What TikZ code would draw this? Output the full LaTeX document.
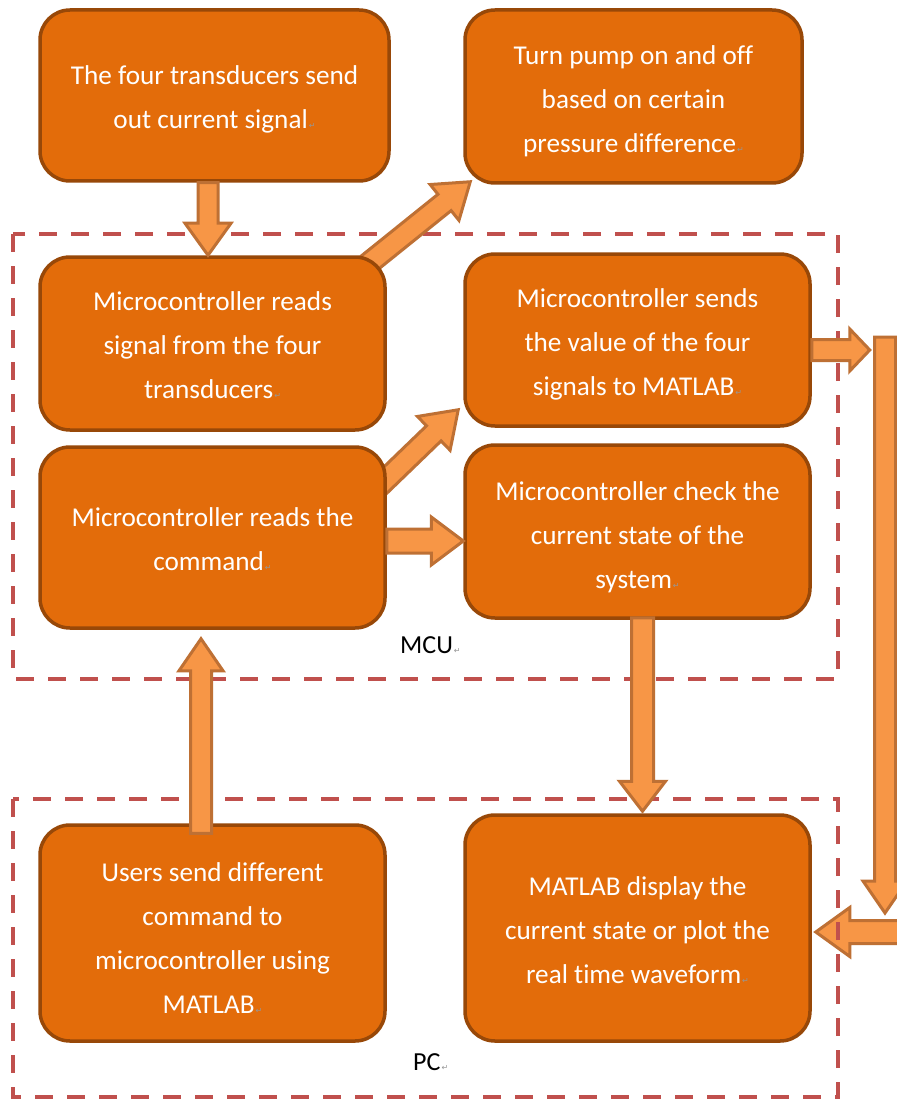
\documentclass[tikz,border=0pt]{standalone}
\usepackage{fontspec}
\setmainfont{Carlito}[Ligatures={NoCommon}]
\newfontfamily\dejavu{DejaVu Sans}
\usetikzlibrary{calc}
\definecolor{boxfill}{RGB}{227,108,10}
\definecolor{boxline}{RGB}{152,72,8}
\definecolor{arrfill}{RGB}{247,150,70}
\definecolor{arrline}{RGB}{190,112,52}
\definecolor{dashred}{RGB}{192,80,77}
\definecolor{retgray}{RGB}{150,150,150}
\newcommand\ret{{\kern1pt\fontsize{8}{8}\dejavu\color{retgray}↵}}
\pgfdeclarelayer{lzero}
\pgfdeclarelayer{lone}
\pgfdeclarelayer{ltwo}
\pgfdeclarelayer{lthree}
\pgfdeclarelayer{ltop}
\pgfsetlayers{lzero,lone,ltwo,lthree,main,ltop}
% start, tip, half shaft, half head, head length
\newcommand\barrow[5]{%
  \coordinate (bH) at ($(#2)!#5!(#1)$);
  \draw[blockarrow] ($(#1)!#3!90:(#2)$) -- ($(bH)!#3!90:(#2)$) -- ($(bH)!#4!90:(#2)$) -- (#2)
     -- ($(bH)!#4!-90:(#2)$) -- ($(bH)!#3!-90:(#2)$) -- ($(#1)!#3!-90:(#2)$) -- cycle;}
\tikzset{
  procbox/.style={draw=boxline, line width=3.5pt, fill=boxfill, rounded corners=30pt, inner sep=0pt},
  boxtext/.style={text=white, align=center, inner sep=0pt, font=\fontsize{27.2}{44}\selectfont},
  dashbox/.style={draw=dashred, line width=4pt, dash pattern=on 18pt off 14pt},
  blockarrow/.style={draw=arrline, fill=arrfill, line width=3pt, line join=miter},
  lbl/.style={text=black, inner sep=0pt, font=\fontsize{26}{30}\selectfont}
}
\begin{document}
\begin{tikzpicture}[x=1pt,y=-1pt]
\useasboundingbox (0,0) rectangle (896,1099);
\begin{pgfonlayer}{lzero}
  \fill[white] (0,0) rectangle (896,1099);
\end{pgfonlayer}

% boxes
\node[procbox, minimum width=349pt, minimum height=171pt] (b1) at (214.5,95.5) {};
\node[procbox, minimum width=337pt, minimum height=173pt] (b2) at (633.5,96.5) {};
\node[procbox, minimum width=345pt, minimum height=173pt] (b3) at (212.5,343.5) {};
\node[procbox, minimum width=345pt, minimum height=172pt] (b4) at (637.5,340) {};
\node[procbox, minimum width=345pt, minimum height=181pt] (b5) at (212.5,537.5) {};
\node[procbox, minimum width=345pt, minimum height=173pt] (b6) at (637.5,531.5) {};
\node[procbox, minimum width=345pt, minimum height=216pt] (b7) at (212.5,933) {};
\node[procbox, minimum width=345pt, minimum height=226pt] (b8) at (637.5,928) {};

% box texts
\node[boxtext] (t1) at ($(b1.center)+(0,4)$) {The four transducers send\\out current signal\ret};
\node[boxtext] (t2) at ($(b2.center)+(0,5)$) {Turn pump on and off\\based on certain\\pressure difference\ret};
\node[boxtext] (t3) at ($(b3.center)+(0,2)$) {Microcontroller reads\\signal from the four\\transducers\ret};
\node[boxtext] (t4) at ($(b4.center)+(0,4)$) {Microcontroller sends\\the value of the four\\signals to MATLAB\ret};
\node[boxtext] (t5) at ($(b5.center)+(0,2)$) {Microcontroller reads the\\command\ret};
\node[boxtext] (t6) at ($(b6.center)+(0,6)$) {Microcontroller check the\\current state of the\\system\ret};
\node[boxtext] (t7) at ($(b7.center)+(0,5)$) {Users send different\\command to\\microcontroller using\\MATLAB\ret};
\node[boxtext] (t8) at ($(b8.center)+(0,2)$) {MATLAB display the\\current state or plot the\\real time waveform\ret};

% labels
\node[lbl, anchor=base west] (mcu) at (400,653) {MCU\ret};
\node[lbl, anchor=base west] (pc) at (413,1070) {PC\ret};

% arrow end points
\coordinate (a1s) at ($(b1.south)+(-6.5,0)$);
\coordinate (a1t) at ($(b3.north)+(-4.5,0)$);
\coordinate (a2s) at ($(b3.north east)+(-24,13)$);
\coordinate (a2t) at ($(b2.south west)+(7,-3)$);
\coordinate (a3s) at ($(b5.north east)+(-14,47)$);
\coordinate (a3t) at ($(b4.south west)+(-5,-18)$);
\coordinate (a4s) at ($(b5.east)+(0,3.5)$);
\coordinate (a4t) at (b6.west |- a4s);
\coordinate (a5s) at ($(b7.north)+(-11.5,10)$);
\coordinate (a5t) at ($(b5.south)+(-11.5,9)$);
\coordinate (a6s) at ($(b6.south)+(5,-2)$);
\coordinate (a6t) at ($(b8.north)+(5,-2)$);
\coordinate (a7s) at ($(b4.east)+(0,10)$);
\coordinate (a7t) at ($(b4.east)+(58,10)$);
\coordinate (a8s) at (885,337);
\coordinate (a8t) at (885,913);
\coordinate (a9s) at (910,932);
\coordinate (a9t) at ($(b8.east)+(4,4)$);

\begin{pgfonlayer}{lone}
  \draw[dashbox] (13,234) rectangle (838,679);
  \barrow{a9s}{a9t}{11.5pt}{24.5pt}{34pt}
\end{pgfonlayer}
\begin{pgfonlayer}{ltwo}
  \draw[dashbox] (13,799) rectangle (838,1097);
\end{pgfonlayer}
\begin{pgfonlayer}{lthree}
  \barrow{a2s}{a2t}{10.5pt}{23pt}{33pt}
  \barrow{a3s}{a3t}{10.5pt}{23.5pt}{34pt}
\end{pgfonlayer}
\begin{pgfonlayer}{ltop}
  \barrow{a1s}{a1t}{10pt}{23pt}{32pt}
  \barrow{a4s}{a4t}{12pt}{24pt}{32pt}
  \barrow{a5s}{a5t}{10.5pt}{22pt}{32pt}
  \barrow{a6s}{a6t}{11pt}{23pt}{30pt}
  \barrow{a7s}{a7t}{10.5pt}{21pt}{20pt}
  \barrow{a8s}{a8t}{10.5pt}{22pt}{32pt}
\end{pgfonlayer}
\end{tikzpicture}
\end{document}
